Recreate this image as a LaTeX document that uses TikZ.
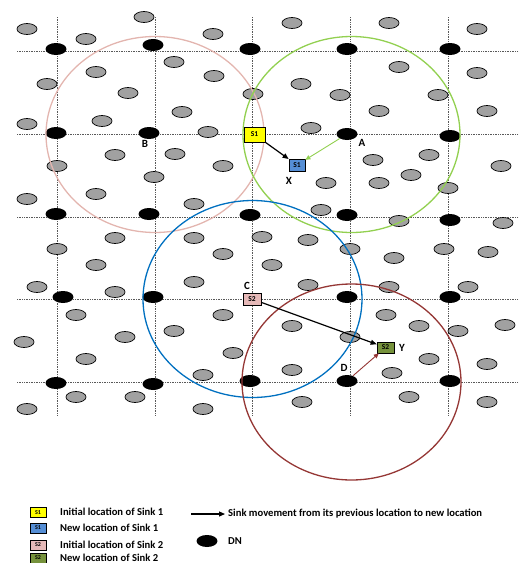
\documentclass[tikz,border=0pt]{standalone}
\usepackage{fontspec}
\setmainfont{Carlito}
\usetikzlibrary{arrows.meta,shapes.geometric}

\definecolor{ringrosa}{HTML}{E3B5AF}
\definecolor{ringgruen}{HTML}{92D050}
\definecolor{ringblau}{HTML}{0070C0}
\definecolor{ringbraun}{HTML}{953735}
\definecolor{sinkgelb}{HTML}{FFFF00}
\definecolor{sinkblau}{HTML}{558ED5}
\definecolor{sinkrosa}{HTML}{E6B9B8}
\definecolor{sinkgruen}{HTML}{76923C}

\begin{document}
\begin{tikzpicture}[x=1pt, y=-1pt,
	gitter/.style={densely dotted, draw=black!65, line width=0.7pt},
	sn/.style={ellipse, draw=black, fill=black!37, line width=0.7pt,
		minimum width=20pt, minimum height=11pt, inner sep=0pt},
	dn/.style={ellipse, fill=black, minimum width=21pt,
		minimum height=12pt, inner sep=0pt},
	sink/.style={draw=black, line width=0.7pt, inner sep=0pt,
		font=\fontsize{7.5}{7.5}\selectfont\bfseries},
	legsink/.style={draw=black, line width=0.6pt, inner sep=0pt,
		minimum width=16pt, minimum height=10pt,
		font=\fontsize{6}{6}\selectfont\bfseries},
	lbl/.style={font=\fontsize{11}{11}\selectfont\bfseries},
	legtext/.style={anchor=west, inner sep=0pt,
		font=\fontsize{10.6}{11}\selectfont\bfseries},
	ring/.style={line width=1.3pt},
	move/.style={-{Triangle[length=6pt, width=5pt]}, line width=1.2pt}]
	\useasboundingbox (0, 0) rectangle (519, 563);
	% Gitterlinien
	\foreach \y in {51, 134, 217, 299, 382}
		\draw[gitter] (17, \y) -- (519, \y);
	\foreach \x in {57, 155, 252, 350, 448}
		\draw[gitter] (\x, 17) -- (\x, 415);
	% Sensorknoten (grau)
	\foreach \x/\y [count=\i] in {27/29, 144/17, 86/39, 213/34, 174/62, 96/72,
		47/84, 214/76, 128/93, 253/94, 182/112, 27/124, 102/121, 208/132,
		115/155, 175/154, 57/166, 223/166, 154/177, 27/199, 96/194, 194/204,
		292/23, 389/23, 477/29, 399/67, 477/73, 301/84, 340/95, 438/95,
		379/111, 487/111, 311/128, 373/160, 429/155, 411/175, 501/166,
		326/183, 379/183, 448/188, 321/210, 399/221, 503/223,
		115/238, 194/238, 57/249, 223/254, 96/265, 194/282, 37/287, 115/292,
		76/315, 223/315, 174/331, 125/337, 24/342, 86/359, 233/353, 203/375,
		76/397, 135/397, 27/409, 203/409,
		262/237, 308/240, 350/249, 394/258, 444/249, 488/252, 272/265,
		308/285, 389/287, 468/287, 386/315, 419/326, 458/331, 505/325,
		292/326, 350/337, 429/359, 292/370, 392/373, 487/364, 409/397,
		302/402, 487/402}
		\node[sn] (sn\i) at (\x, \y) {};
	% DN (schwarz)
	\foreach \x/\y [count=\i] in {56/49, 153/45, 250/49, 347/49, 450/49,
		56/133, 450/136,
		56/214, 149/214, 250/215, 347/215, 450/220,
		63/297, 153/297, 347/297, 450/297,
		56/383, 153/384, 250/381, 450/381}
		\node[dn] (dn\i) at (\x, \y) {};
	\node[dn] (dnA) at (347, 134) {};
	\node[dn] (dnB) at (149, 133) {};
	\node[dn] (dnD) at (347, 381) {};
	% Reichweiten
	\draw[ring, ringrosa] (155, 134.5) ellipse [x radius=109pt, y radius=98pt];
	\draw[ring, ringgruen] (351.5, 134.5) ellipse [x radius=108.5pt, y radius=98pt];
	\draw[ring, ringblau] (252.5, 299) ellipse [x radius=109.5pt, y radius=98.5pt];
	\draw[ring, ringbraun] (351.5, 382) ellipse [x radius=109.5pt, y radius=98pt];
	% Senken
	\node[sink, fill=sinkgelb, minimum width=21pt, minimum height=15pt] (s1alt) at (254.5, 134.5) {S1};
	\node[sink, fill=sinkblau, minimum width=16pt, minimum height=12pt] (s1neu) at (297, 165) {S1};
	\node[sink, fill=sinkrosa, minimum width=18pt, minimum height=12pt] (s2alt) at (252, 299) {S2};
	\node[sink, fill=sinkgruen, minimum width=17pt, minimum height=11pt] (s2neu) at (385.5, 347.5) {S2};
	% Bewegungen
	\draw[move] (s1alt) -- (s1neu);
	\draw[move] (s2alt) -- (s2neu);
	\draw[-{Triangle[length=5pt, width=4.5pt]}, line width=0.9pt, ringgruen] (dnA) -- (s1neu);
	\draw[-{Triangle[length=5pt, width=4.5pt]}, line width=0.9pt, ringbraun] (dnD) -- (s2neu);
	% Beschriftungen
	\node[lbl] (labA) at (362, 143) {A};
	\node[lbl] (labB) at (145, 144) {B};
	\node[lbl] (labC) at (247, 286) {C};
	\node[lbl] (labD) at (344, 368) {D};
	\node[lbl] (labX) at (289, 181) {X};
	\node[lbl] (labY) at (402, 348) {Y};
	% Legende
	\node[legsink, fill=sinkgelb] (leg1) at (38, 512.5) {S1};
	\node[legtext] (legt1) at (60, 512) {Initial location of Sink 1};
	\node[legsink, fill=sinkblau] (leg2) at (38, 528) {S1};
	\node[legtext] (legt2) at (60, 528) {New location of Sink 1};
	\node[legsink, fill=sinkrosa] (leg3) at (38, 545) {S2};
	\node[legtext] (legt3) at (60, 545) {Initial location of Sink 2};
	\node[legsink, fill=sinkgruen] (leg4) at (38, 558) {S2};
	\node[legtext] (legt4) at (60, 557.5) {New location of Sink 2};
	\coordinate (pfeilstart) at (191, 514);
	\node[legtext] (legt5) at (228, 514) {Sink movement from its previous location to new location};
	\draw[move, shorten >=3pt] (pfeilstart) -- (legt5.west);
	\node[dn] (legdn) at (207, 541) {};
	\node[legtext] (legt6) at (228, 541) {DN};
\end{tikzpicture}
\end{document}
